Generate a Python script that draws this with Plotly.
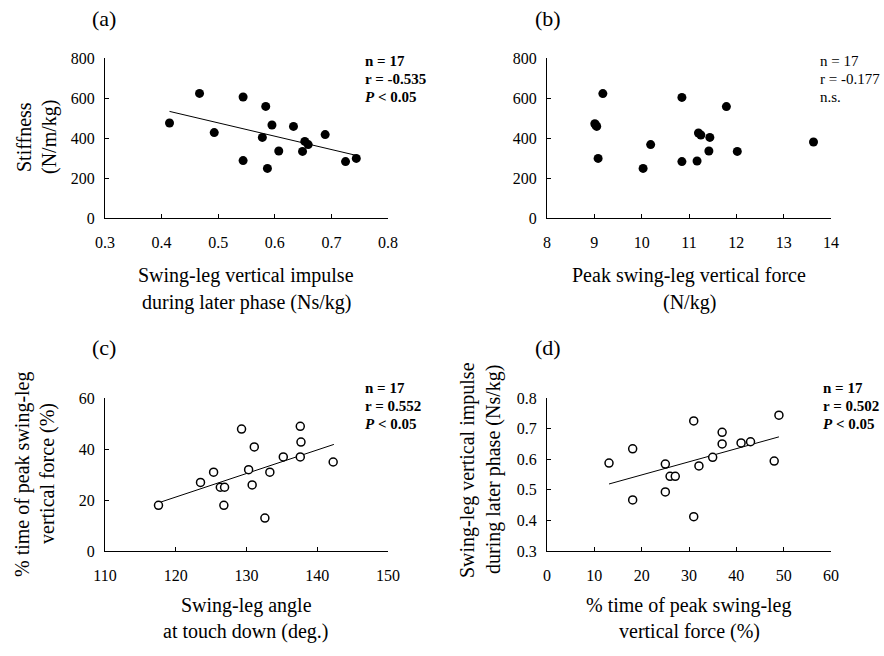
import plotly.graph_objects as go

# ---------------- data ----------------
a_impulse = [0.414, 0.467, 0.493, 0.544, 0.544, 0.578, 0.584, 0.587, 0.595,
             0.607, 0.633, 0.649, 0.653, 0.659, 0.689, 0.725, 0.744]
a_stiffness = [475, 623, 427, 605, 287, 403, 558, 248, 465,
               335, 458, 333, 383, 367, 417, 282, 298]
a_fit_x = [0.414, 0.744]
a_fit_y = [533, 313]

b_force = [9.01, 9.03, 9.05, 9.18, 9.08, 10.03, 10.19, 10.85, 10.85,
           11.17, 11.20, 11.25, 11.44, 11.42, 11.79, 12.02, 13.63]
b_stiffness = [471, 465, 458, 622, 298, 248, 367, 603, 282,
               285, 425, 415, 403, 335, 557, 333, 380]

c_angle = [117.56, 123.5, 125.35, 126.3, 126.9, 126.8, 129.3, 130.3, 130.8,
           131.1, 132.6, 133.3, 135.2, 137.6, 137.6, 137.7, 142.25]
c_time = [17.9, 26.9, 30.9, 25.0, 25.0, 17.9, 47.8, 31.9, 25.9,
          40.8, 12.9, 30.9, 36.9, 36.9, 48.9, 42.7, 34.9]
c_fit_x = [117.56, 142.35]
c_fit_y = [18.9, 41.8]

d_time = [13.1, 18.1, 18.1, 25.0, 25.0, 26.0, 27.1, 31.0, 31.0,
          32.1, 35.0, 37.0, 37.0, 41.0, 43.0, 48.0, 49.0]
d_impulse = [0.5875, 0.634, 0.467, 0.584, 0.493, 0.544, 0.544, 0.725, 0.412,
             0.578, 0.606, 0.688, 0.650, 0.653, 0.657, 0.594, 0.744]
d_fit_x = [13.1, 49.0]
d_fit_y = [0.519, 0.673]

a_ticks = [0.3, 0.4, 0.5, 0.6, 0.7, 0.8]
b_ticks = [8, 9, 10, 11, 12, 13, 14]
stiff_ticks = [0, 200, 400, 600, 800]
c_xticks = [110, 120, 130, 140, 150]
c_yticks = [0, 20, 40, 60]
d_xticks = [0, 10, 20, 30, 40, 50, 60]
d_yticks = [0.3, 0.4, 0.5, 0.6, 0.7, 0.8]

# ---------------- layout helpers ----------------
W, H = 884, 656
FONT = "'Liberation Serif', 'Times New Roman', Times, serif"


def px(x):
    return x / W


def py(y):
    return 1 - y / H


fig = go.Figure()

filled = dict(size=9, color="black", line=dict(width=0))
hollow = dict(size=8, color="white", line=dict(width=1.5, color="black"))
fitline = dict(color="black", width=1)

fig.add_trace(go.Scatter(x=a_impulse, y=a_stiffness, mode="markers", marker=filled, xaxis="x", yaxis="y"))
fig.add_trace(go.Scatter(x=a_fit_x, y=a_fit_y, mode="lines", line=fitline, xaxis="x", yaxis="y"))
fig.add_trace(go.Scatter(x=b_force, y=b_stiffness, mode="markers", marker=filled, xaxis="x2", yaxis="y2"))
fig.add_trace(go.Scatter(x=c_fit_x, y=c_fit_y, mode="lines", line=fitline, xaxis="x3", yaxis="y3"))
fig.add_trace(go.Scatter(x=c_angle, y=c_time, mode="markers", marker=hollow, xaxis="x3", yaxis="y3"))
fig.add_trace(go.Scatter(x=d_fit_x, y=d_fit_y, mode="lines", line=fitline, xaxis="x4", yaxis="y4"))
fig.add_trace(go.Scatter(x=d_time, y=d_impulse, mode="markers", marker=hollow, xaxis="x4", yaxis="y4"))


def axis(domain, rng, ticks, anchor, fmt=None, standoff=4):
    d = dict(domain=domain, range=rng, tickvals=ticks, showgrid=False, zeroline=False,
             showline=True, linecolor="black", linewidth=1, ticks="inside", ticklen=4,
             tickwidth=1, tickcolor="black", anchor=anchor, automargin=False,
             ticklabelstandoff=standoff,
             tickfont=dict(family=FONT, size=16, color="black"))
    if fmt:
        d["tickformat"] = fmt
    return d


left_x = [px(105), px(388)]
right_x = [px(547), px(831)]
top_y = [py(218), py(58)]
bot_y = [py(551), py(398)]

XS, YS = 10, 6
fig.update_layout(
    width=W, height=H, margin=dict(l=0, r=0, t=0, b=0, autoexpand=False),
    paper_bgcolor="white", plot_bgcolor="white", showlegend=False,
    font=dict(family=FONT, color="black"),
    xaxis=axis(left_x, [0.3, 0.8], a_ticks, "y", ".1f", XS),
    yaxis=axis(top_y, [0, 800], stiff_ticks, "x", None, YS),
    xaxis2=axis(right_x, [8, 14], b_ticks, "y2", None, XS),
    yaxis2=axis(top_y, [0, 800], stiff_ticks, "x2", None, YS),
    xaxis3=axis(left_x, [110, 150], c_xticks, "y3", None, XS),
    yaxis3=axis(bot_y, [0, 60], c_yticks, "x3", None, YS),
    xaxis4=axis(right_x, [0, 60], d_xticks, "y4", None, XS),
    yaxis4=axis(bot_y, [0.3, 0.8], d_yticks, "x4", ".1f", YS),
)

ann = []


def text(x, y, s, size=20, angle=0, xanchor="center"):
    ann.append(dict(x=px(x), y=py(y), xref="paper", yref="paper", text=s, showarrow=False,
                    textangle=angle, xanchor=xanchor, yanchor="middle",
                    font=dict(family=FONT, size=size, color="black")))


# panel labels
text(104, 19, "(a)", 22)
text(548, 19, "(b)", 22)
text(104, 347, "(c)", 22)
text(548, 347, "(d)", 22)

# x titles
text(246, 276, "Swing-leg vertical impulse")
text(246, 302, "during later phase (Ns/kg)")
text(689, 276, "Peak swing-leg vertical force")
text(689, 302, "(N/kg)")
text(246, 605, "Swing-leg angle")
text(246, 631, "at touch down (deg.)")
text(689, 605, "% time of peak swing-leg")
text(689, 631, "vertical force (%)")

# y titles
text(24, 137, "Stiffness", angle=-90)
text(49, 137, "(N/m/kg)", angle=-90)
text(22, 474, "% time of peak swing-leg", angle=-90)
text(47, 474, "vertical force (%)", angle=-90)
text(467, 470, "Swing-leg vertical impulse", angle=-90)
text(493, 470, "during later phase (Ns/kg)", angle=-90)

# stats
S = 15
text(363, 61, "<b>n = 17</b>", S, xanchor="left")
text(363, 79, "<b>r = -0.535</b>", S, xanchor="left")
text(363, 97, "<b><i>P</i> < 0.05</b>", S, xanchor="left")
text(818, 61, "n = 17", S, xanchor="left")
text(818, 79, "r = -0.177", S, xanchor="left")
text(818, 97, "n.s.", S, xanchor="left")
text(363, 388, "<b>n = 17</b>", S, xanchor="left")
text(363, 406, "<b>r = 0.552</b>", S, xanchor="left")
text(363, 424, "<b><i>P</i> < 0.05</b>", S, xanchor="left")
text(821, 388, "<b>n = 17</b>", S, xanchor="left")
text(821, 406, "<b>r = 0.502</b>", S, xanchor="left")
text(821, 424, "<b><i>P</i> < 0.05</b>", S, xanchor="left")

fig.update_layout(annotations=ann)
fig.write_html("out.html", config={"displayModeBar": False},
               post_script="document.body.style.margin='0';document.body.style.overflow='hidden';")
